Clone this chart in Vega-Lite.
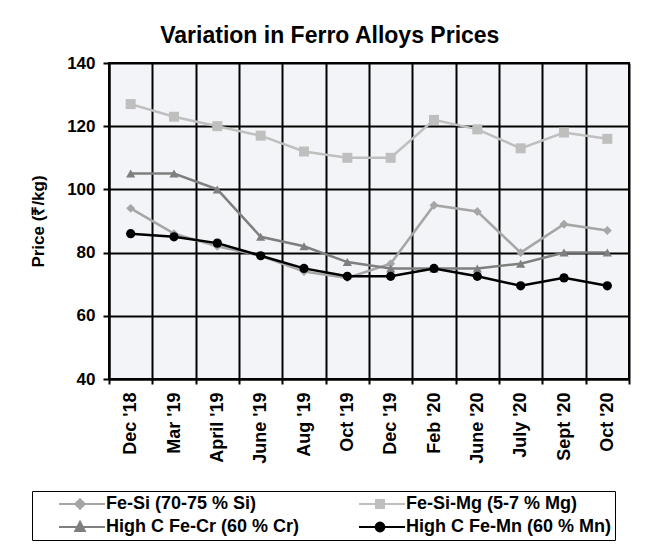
{
  "$schema": "https://vega.github.io/schema/vega-lite/v6.json",
  "width": 520,
  "height": 316,
  "autosize": {"type": "none"},
  "padding": {"left": 109, "top": 63, "right": 28, "bottom": 178},
  "background": "white",
  "title": {
    "text": "Variation in Ferro Alloys Prices",
    "fontSize": 23,
    "font": "Liberation Sans",
    "fontWeight": "bold",
    "color": "black",
    "anchor": "middle",
    "frame": "bounds",
    "offset": 6
  },
  "data": {
    "values": [
      {"month": "Dec '18", "series": "Fe-Si (70-75 % Si)", "price": 94},
      {"month": "Mar '19", "series": "Fe-Si (70-75 % Si)", "price": 86},
      {"month": "April '19", "series": "Fe-Si (70-75 % Si)", "price": 82},
      {"month": "June '19", "series": "Fe-Si (70-75 % Si)", "price": 79},
      {"month": "Aug '19", "series": "Fe-Si (70-75 % Si)", "price": 74},
      {"month": "Oct '19", "series": "Fe-Si (70-75 % Si)", "price": 72},
      {"month": "Dec '19", "series": "Fe-Si (70-75 % Si)", "price": 76.5},
      {"month": "Feb '20", "series": "Fe-Si (70-75 % Si)", "price": 95},
      {"month": "June '20", "series": "Fe-Si (70-75 % Si)", "price": 93},
      {"month": "July '20", "series": "Fe-Si (70-75 % Si)", "price": 80},
      {"month": "Sept '20", "series": "Fe-Si (70-75 % Si)", "price": 89},
      {"month": "Oct '20", "series": "Fe-Si (70-75 % Si)", "price": 87},
      {"month": "Dec '18", "series": "Fe-Si-Mg (5-7 % Mg)", "price": 127},
      {"month": "Mar '19", "series": "Fe-Si-Mg (5-7 % Mg)", "price": 123},
      {"month": "April '19", "series": "Fe-Si-Mg (5-7 % Mg)", "price": 120},
      {"month": "June '19", "series": "Fe-Si-Mg (5-7 % Mg)", "price": 117},
      {"month": "Aug '19", "series": "Fe-Si-Mg (5-7 % Mg)", "price": 112},
      {"month": "Oct '19", "series": "Fe-Si-Mg (5-7 % Mg)", "price": 110},
      {"month": "Dec '19", "series": "Fe-Si-Mg (5-7 % Mg)", "price": 110},
      {"month": "Feb '20", "series": "Fe-Si-Mg (5-7 % Mg)", "price": 122},
      {"month": "June '20", "series": "Fe-Si-Mg (5-7 % Mg)", "price": 119},
      {"month": "July '20", "series": "Fe-Si-Mg (5-7 % Mg)", "price": 113},
      {"month": "Sept '20", "series": "Fe-Si-Mg (5-7 % Mg)", "price": 118},
      {"month": "Oct '20", "series": "Fe-Si-Mg (5-7 % Mg)", "price": 116},
      {"month": "Dec '18", "series": "High C Fe-Cr (60 % Cr)", "price": 105},
      {"month": "Mar '19", "series": "High C Fe-Cr (60 % Cr)", "price": 105},
      {"month": "April '19", "series": "High C Fe-Cr (60 % Cr)", "price": 100},
      {"month": "June '19", "series": "High C Fe-Cr (60 % Cr)", "price": 85},
      {"month": "Aug '19", "series": "High C Fe-Cr (60 % Cr)", "price": 82},
      {"month": "Oct '19", "series": "High C Fe-Cr (60 % Cr)", "price": 77},
      {"month": "Dec '19", "series": "High C Fe-Cr (60 % Cr)", "price": 75},
      {"month": "Feb '20", "series": "High C Fe-Cr (60 % Cr)", "price": 75},
      {"month": "June '20", "series": "High C Fe-Cr (60 % Cr)", "price": 75},
      {"month": "July '20", "series": "High C Fe-Cr (60 % Cr)", "price": 76.5},
      {"month": "Sept '20", "series": "High C Fe-Cr (60 % Cr)", "price": 80},
      {"month": "Oct '20", "series": "High C Fe-Cr (60 % Cr)", "price": 80},
      {"month": "Dec '18", "series": "High C Fe-Mn (60 % Mn)", "price": 86},
      {"month": "Mar '19", "series": "High C Fe-Mn (60 % Mn)", "price": 85},
      {"month": "April '19", "series": "High C Fe-Mn (60 % Mn)", "price": 83},
      {"month": "June '19", "series": "High C Fe-Mn (60 % Mn)", "price": 79},
      {"month": "Aug '19", "series": "High C Fe-Mn (60 % Mn)", "price": 75},
      {"month": "Oct '19", "series": "High C Fe-Mn (60 % Mn)", "price": 72.5},
      {"month": "Dec '19", "series": "High C Fe-Mn (60 % Mn)", "price": 72.5},
      {"month": "Feb '20", "series": "High C Fe-Mn (60 % Mn)", "price": 75},
      {"month": "June '20", "series": "High C Fe-Mn (60 % Mn)", "price": 72.5},
      {"month": "July '20", "series": "High C Fe-Mn (60 % Mn)", "price": 69.5},
      {"month": "Sept '20", "series": "High C Fe-Mn (60 % Mn)", "price": 72},
      {"month": "Oct '20", "series": "High C Fe-Mn (60 % Mn)", "price": 69.5}
    ]
  },
  "encoding": {
    "x": {
      "field": "month",
      "type": "ordinal",
      "bandPosition": 0.5,
      "sort": ["Dec '18", "Mar '19", "April '19", "June '19", "Aug '19", "Oct '19", "Dec '19", "Feb '20", "June '20", "July '20", "Sept '20", "Oct '20"],
      "scale": {"type": "band", "paddingInner": 0, "paddingOuter": 0},
      "axis": {
        "title": null,
        "labelAngle": -90,
        "labelAlign": "right",
        "labelBaseline": "middle",
        "labelFontSize": 18,
        "labelFont": "Liberation Sans",
        "labelFontWeight": "bold",
        "labelColor": "black",
        "labelPadding": 8,
        "tickBand": "extent",
        "grid": true,
        "gridColor": "black",
        "gridWidth": 2,
        "gridOpacity": 1,
        "tickColor": "black",
        "tickWidth": 2,
        "tickSize": 5,
        "domainColor": "black",
        "domainWidth": 2
      }
    },
    "y": {
      "field": "price",
      "type": "quantitative",
      "scale": {"domain": [40, 140], "nice": false, "zero": false},
      "axis": {
        "title": "Price (₹/kg)",
        "titleFontSize": 17,
        "titleFont": "Liberation Sans",
        "titleFontWeight": "bold",
        "titleColor": "black",
        "titlePadding": 19,
        "values": [40, 60, 80, 100, 120, 140],
        "labelFontSize": 17,
        "labelFont": "Liberation Sans",
        "labelFontWeight": "bold",
        "labelColor": "black",
        "labelPadding": 8,
        "grid": true,
        "gridColor": "black",
        "gridWidth": 2,
        "gridOpacity": 1,
        "tickColor": "black",
        "tickWidth": 2,
        "tickSize": 6,
        "domainColor": "black",
        "domainWidth": 2
      }
    },
    "color": {
      "field": "series",
      "type": "nominal",
      "scale": {
        "domain": ["Fe-Si (70-75 % Si)", "Fe-Si-Mg (5-7 % Mg)", "High C Fe-Cr (60 % Cr)", "High C Fe-Mn (60 % Mn)"],
        "range": ["#a6a6a6", "#bfbfbf", "#7f7f7f", "#000000"]
      },
      "legend": {
        "title": null,
        "orient": "none",
        "legendX": -77,
        "legendY": 428,
        "direction": "horizontal",
        "columns": 2,
        "columnPadding": 36,
        "rowPadding": 4,
        "strokeColor": "black",
        "padding": 4,
        "symbolSize": 64,
        "symbolStrokeWidth": 2,
        "labelOffset": 52,
        "labelFontSize": 18,
        "labelFont": "Liberation Sans",
        "labelFontWeight": "bold",
        "labelColor": "black",
        "labelLimit": 300,
        "encode": {
          "symbols": {
            "update": {
              "shape": {"signal": "datum.value === 'Fe-Si (70-75 % Si)' ? 'M3.5,0H15M8.75,-1.2L9.95,0L8.75,1.2L7.55,0Z' : datum.value === 'Fe-Si-Mg (5-7 % Mg)' ? 'M3.5,0H15M7.75,-1L9.75,-1L9.75,1L7.75,1Z' : datum.value === 'High C Fe-Cr (60 % Cr)' ? 'M3.5,0H15M8.75,-1.3L9.95,1L7.55,1Z' : 'M3.5,0H15M9.85,0A1.1,1.1,0,1,1,7.65,0A1.1,1.1,0,1,1,9.85,0Z'"},
              "stroke": {"signal": "scale('color', datum.value)"},
              "strokeWidth": {"value": 2},
              "fill": {"signal": "scale('color', datum.value)"},
              "opacity": {"value": 1}
            }
          }
        }
      }
    }
  },
  "layer": [
    {
      "mark": {"type": "line", "strokeWidth": 2.5}
    },
    {
      "transform": [{"filter": "datum.series === 'Fe-Si (70-75 % Si)'"}],
      "mark": {"type": "point", "filled": true, "size": 80, "opacity": 1, "shape": "diamond"}
    },
    {
      "transform": [{"filter": "datum.series === 'Fe-Si-Mg (5-7 % Mg)'"}],
      "mark": {"type": "point", "filled": true, "size": 100, "opacity": 1, "shape": "square"}
    },
    {
      "transform": [{"filter": "datum.series === 'High C Fe-Cr (60 % Cr)'"}],
      "mark": {"type": "point", "filled": true, "size": 85, "opacity": 1, "shape": "triangle-up"}
    },
    {
      "transform": [{"filter": "datum.series === 'High C Fe-Mn (60 % Mn)'"}],
      "mark": {"type": "point", "filled": true, "size": 85, "opacity": 1, "shape": "circle"}
    }
  ],
  "config": {
    "view": {"fill": "#f3f4f7", "stroke": "black", "strokeWidth": 2}
  }
}
